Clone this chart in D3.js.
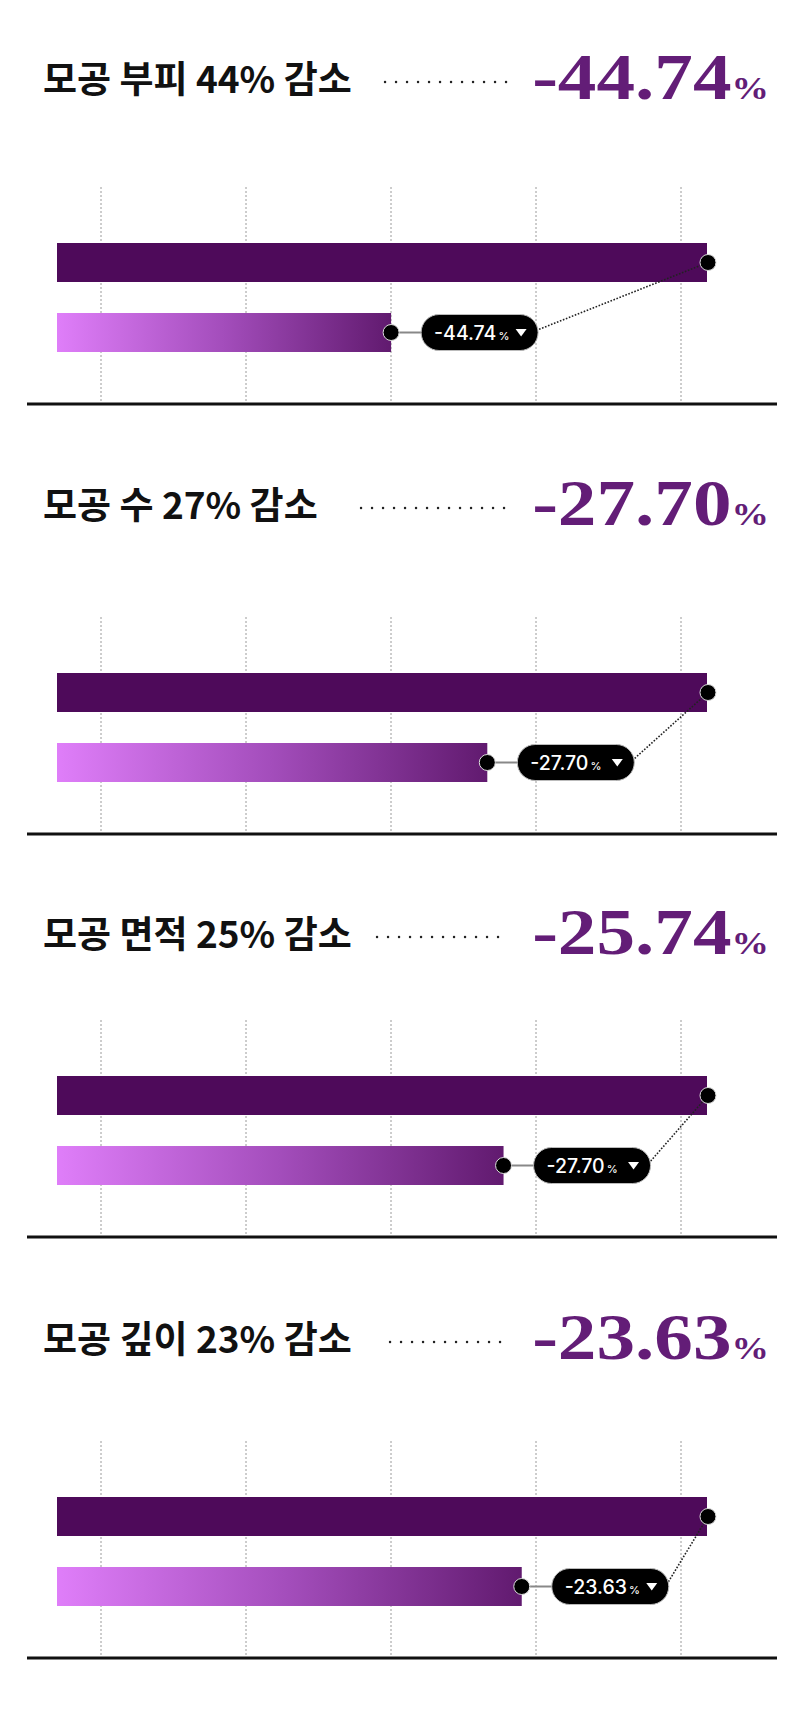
<!DOCTYPE html>
<html>
<head>
<meta charset="utf-8">
<script src="https://cdn.jsdelivr.net/npm/d3@7"></script>
<style>
  body { margin: 0; background: #fff; }
  svg { display: block; }
</style>
</head>
<body>
<div id="chart-area"></div>
<script>

// data
var titles = ["모공 부피 44% 감소", "모공 수 27% 감소", "모공 면적 25% 감소", "모공 깊이 23% 감소"];
var headlineValues = ["-44.74", "-27.70", "-25.74", "-23.63"];
var badgeValues = ["-44.74", "-27.70", "-27.70", "-23.63"];   // third badge says -27.70 in the original
var beforeValues = [100, 100, 100, 100];
var afterValues = [51.4, 66.2, 68.7, 71.5];
var gridTicks = [0, 1, 2, 3, 4];

// layout per panel
var axisY = [404, 834, 1237, 1658];
var titleY = [80, 506, 935, 1340];
var leaderX0 = [385, 361, 377, 390];

var width = 800, height = 1716;

var svg = d3.select("#chart-area")
  .append("svg")
    .attr("width", width)
    .attr("height", height);

var defs = svg.append("defs");
var grad = defs.append("linearGradient")
    .attr("id", "afterGrad")
    .attr("x1", "0%").attr("x2", "100%")
    .attr("y1", "0%").attr("y2", "0%");
grad.append("stop").attr("offset", "0%").attr("stop-color", "#df7ef9");
grad.append("stop").attr("offset", "50%").attr("stop-color", "#a34dbb");
grad.append("stop").attr("offset", "100%").attr("stop-color", "#611a6f");

var x = d3.scaleLinear().domain([0, 100]).range([57, 707]);
var gridX = d3.scaleLinear().domain([0, 4]).range([101, 681]);

var panels = svg.selectAll("g.panel")
  .data(titles)
  .enter()
  .append("g")
    .attr("class", "panel");

panels.each(function(t, i) {
  var g = d3.select(this);
  var base = axisY[i];

  var y = d3.scaleBand()
    .domain(["before", "after"])
    .range([base - 161, base - 52])
    .paddingInner(0.443);

  // title
  g.append("text")
    .attr("x", 43)
    .attr("y", titleY[i] + 13)
    .attr("font-family", "'Noto Sans CJK KR', 'Noto Sans', sans-serif")
    .attr("font-weight", 700)
    .attr("font-size", 37)
    .attr("fill", "#111")
    .text(t);

  // dotted leader
  g.append("line")
    .attr("x1", leaderX0[i])
    .attr("x2", 508)
    .attr("y1", titleY[i] + 2)
    .attr("y2", titleY[i] + 2)
    .attr("stroke", "#222")
    .attr("stroke-width", 2.4)
    .attr("stroke-linecap", "round")
    .attr("stroke-dasharray", "0.1 10.9");

  // headline number (display serif, widened)
  var num = g.append("text")
    .attr("transform", "translate(769," + (titleY[i] + 19) + ") scale(1.17,1)")
    .attr("text-anchor", "end")
    .attr("font-family", "'Liberation Serif', 'DejaVu Serif', serif")
    .attr("font-weight", 700)
    .attr("fill", "#631d77");
  num.append("tspan")
    .attr("font-size", 66)
    .text(headlineValues[i]);
  num.append("tspan")
    .attr("font-size", 32)
    .text("%");

  // grid
  g.selectAll("line.grid")
    .data(gridTicks)
    .enter()
    .append("line")
      .attr("class", "grid")
      .attr("x1", function(d) { return gridX(d); })
      .attr("x2", function(d) { return gridX(d); })
      .attr("y1", base - 217)
      .attr("y2", base)
      .attr("stroke", "#9a9a9a")
      .attr("stroke-width", 1)
      .attr("stroke-dasharray", "2 2");

  // bars
  var bars = [
    { key: "before", v: beforeValues[i], fill: "#4e0a5a" },
    { key: "after", v: afterValues[i], fill: "url(#afterGrad)" }
  ];
  g.selectAll("rect.bar")
    .data(bars)
    .enter()
    .append("rect")
      .attr("class", "bar")
      .attr("x", x(0))
      .attr("y", function(d) { return y(d.key); })
      .attr("width", function(d) { return x(d.v) - x(0); })
      .attr("height", y.bandwidth())
      .attr("fill", function(d) { return d.fill; });

  // axis line
  g.append("line")
    .attr("x1", 27)
    .attr("x2", 777)
    .attr("y1", base)
    .attr("y2", base)
    .attr("stroke", "#111")
    .attr("stroke-width", 3);

  var cy1 = y("before") + y.bandwidth() / 2;
  var cy2 = y("after") + y.bandwidth() / 2;
  var dx1 = x(beforeValues[i]) + 1;
  var dx2 = x(afterValues[i]);

  var pillW = 117, pillH = 36;
  var pillX = dx2 + 30;

  // connectors
  g.append("line")
    .attr("x1", dx2).attr("y1", cy2)
    .attr("x2", pillX).attr("y2", cy2)
    .attr("stroke", "#888")
    .attr("stroke-width", 2);

  g.append("line")
    .attr("x1", pillX + pillW - 2).attr("y1", cy2 - 2)
    .attr("x2", dx1).attr("y2", cy1)
    .attr("stroke", "#222")
    .attr("stroke-width", 1.6)
    .attr("stroke-dasharray", "1.6 1.6");

  // end dots
  g.selectAll("circle.end")
    .data([[dx1, cy1], [dx2, cy2]])
    .enter()
    .append("circle")
      .attr("class", "end")
      .attr("cx", function(d) { return d[0]; })
      .attr("cy", function(d) { return d[1]; })
      .attr("r", 8)
      .attr("fill", "#000")
      .attr("stroke", "#ddd")
      .attr("stroke-width", 1);

  // badge
  g.append("rect")
    .attr("x", pillX)
    .attr("y", cy2 - pillH / 2)
    .attr("width", pillW)
    .attr("height", pillH)
    .attr("rx", pillH / 2)
    .attr("fill", "#000")
    .attr("stroke", "#bbb")
    .attr("stroke-width", 1);

  var label = g.append("text")
    .attr("x", pillX + 13)
    .attr("y", cy2 + 7)
    .attr("font-family", "Inter, 'Noto Sans', sans-serif")
    .attr("font-weight", 500)
    .attr("fill", "#fff");
  label.append("tspan")
    .attr("font-size", 19.5)
    .text(badgeValues[i]);
  label.append("tspan")
    .attr("font-size", 11)
    .attr("dx", 2)
    .text("%");

  var triX = pillX + pillW - 17;
  g.append("path")
    .attr("d", d3.line()([[triX - 5.5, cy2 - 3.5], [triX + 5.5, cy2 - 3.5], [triX, cy2 + 4]]) + "Z")
    .attr("fill", "#fff");
});

</script>
</body>
</html>
